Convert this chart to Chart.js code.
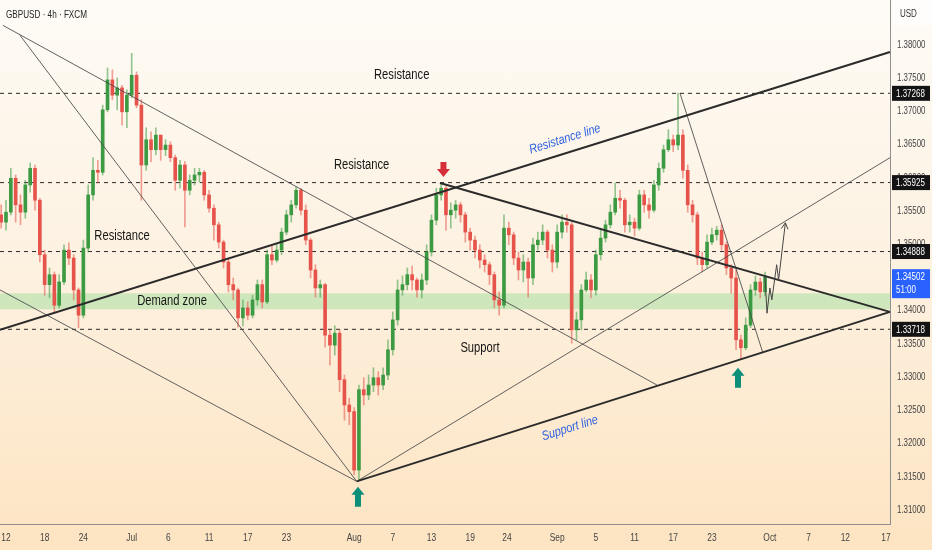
<!DOCTYPE html>
<html><head><meta charset="utf-8">
<script src="https://cdn.jsdelivr.net/npm/chart.js@4.4.1/dist/chart.umd.min.js"></script>
<style>
html,body{margin:0;padding:0;background:#fff;}
#wrap{width:932px;height:550px;position:relative;background:linear-gradient(to bottom,#fefbf6 0%,#fdf2e2 45%,#fde4c2 100%);}
canvas{display:block;}
</style></head><body>
<div id="wrap"><canvas id="c" width="932" height="550"></canvas></div>
<script>
// ---------- DATA ----------
// half-day candles, x in trading days since Jun 12
const firstOpen = 1.3544;
const closes = [
1.3533,1.3548,1.3599,1.3559,1.3548,1.3589,1.3614,1.3566,1.3484,1.3439,
1.3454,1.3408,1.3443,1.3491,1.3479,1.3431,1.3393,1.3494,1.3574,1.3611,
1.3608,1.3702,1.3747,1.3724,1.3735,1.3699,1.3724,1.3754,1.3709,1.3619,
1.3657,1.3642,1.3664,1.3642,1.3649,1.3630,1.3596,1.3619,1.3581,1.3596,
1.3604,1.3608,1.3574,1.3554,1.3529,1.3503,1.3473,1.3439,1.3431,1.3389,
1.3404,1.3393,1.3416,1.3439,1.3413,1.3484,1.3476,1.3491,1.3518,1.3544,
1.3559,1.3581,1.3551,1.3506,1.3461,1.3434,1.3439,1.3363,1.3348,1.3366,
1.3296,1.3258,1.3248,1.3160,1.3281,1.3273,1.3288,1.3299,1.3288,1.3303,
1.3341,1.3386,1.3431,1.3439,1.3454,1.3446,1.3431,1.3446,1.3488,1.3536,
1.3574,1.3584,1.3544,1.3551,1.3559,1.3544,1.3518,1.3506,1.3491,1.3476,
1.3469,1.3454,1.3416,1.3408,1.3524,1.3514,1.3479,1.3461,1.3473,1.3449,
1.3499,1.3506,1.3518,1.3491,1.3473,1.3518,1.3533,1.3529,1.3371,1.3386,
1.3431,1.3446,1.3431,1.3484,1.3509,1.3529,1.3548,1.3569,1.3566,1.3529,
1.3533,1.3524,1.3574,1.3559,1.3551,1.3589,1.3614,1.3642,1.3657,1.3649,
1.3664,1.3611,1.3559,1.3544,1.3479,1.3469,1.3503,1.3514,1.3521,1.3499,
1.3464,1.3449,1.3356,1.3344,1.3378,1.3431,1.3443,1.3428,1.3450];
const highs = [
1.3559,1.3566,1.3614,1.3604,1.3574,1.3596,1.3622,1.3619,1.3569,1.3491,
1.3464,1.3458,1.3454,1.3499,1.3502,1.3484,1.3434,1.3506,1.3589,1.3630,
1.3626,1.3709,1.3765,1.3762,1.3750,1.3739,1.3732,1.3787,1.3759,1.3717,
1.3675,1.3669,1.3675,1.3660,1.3657,1.3654,1.3634,1.3626,1.3624,1.3604,
1.3614,1.3614,1.3611,1.3581,1.3559,1.3533,1.3506,1.3479,1.3449,1.3434,
1.3416,1.3413,1.3423,1.3446,1.3446,1.3491,1.3497,1.3499,1.3524,1.3551,
1.3566,1.3586,1.3584,1.3559,1.3509,1.3469,1.3446,1.3441,1.3371,1.3377,
1.3371,1.3303,1.3268,1.3254,1.3288,1.3299,1.3303,1.3314,1.3308,1.3314,
1.3356,1.3398,1.3446,1.3452,1.3464,1.3467,1.3449,1.3455,1.3499,1.3544,
1.3584,1.3593,1.3587,1.3562,1.3566,1.3563,1.3548,1.3524,1.3512,1.3499,
1.3484,1.3473,1.3458,1.3428,1.3544,1.3533,1.3518,1.3488,1.3484,1.3479,
1.3509,1.3518,1.3529,1.3521,1.3499,1.3529,1.3544,1.3544,1.3533,1.3398,
1.3439,1.3458,1.3454,1.3491,1.3524,1.3536,1.3559,1.3592,1.3581,1.3569,
1.3544,1.3539,1.3581,1.3581,1.3569,1.3596,1.3622,1.3649,1.3672,1.3664,
1.3727,1.3672,1.3619,1.3566,1.3548,1.3488,1.3514,1.3524,1.3527,1.3529,
1.3503,1.3469,1.3461,1.3363,1.3389,1.3439,1.3452,1.3449,1.3458];
const lows = [
1.3524,1.3521,1.3544,1.3533,1.3529,1.3539,1.3578,1.3551,1.3473,1.3423,
1.3419,1.3396,1.3404,1.3439,1.3469,1.3416,1.3374,1.3389,1.3488,1.3566,
1.3592,1.3604,1.3699,1.3717,1.3702,1.3679,1.3675,1.3720,1.3705,1.3566,
1.3611,1.3624,1.3634,1.3626,1.3633,1.3624,1.3581,1.3584,1.3526,1.3574,
1.3589,1.3593,1.3566,1.3548,1.3506,1.3494,1.3464,1.3428,1.3416,1.3375,
1.3377,1.3386,1.3389,1.3408,1.3404,1.3410,1.3469,1.3473,1.3484,1.3514,
1.3533,1.3554,1.3544,1.3499,1.3449,1.3420,1.3420,1.3345,1.3318,1.3333,
1.3278,1.3235,1.3228,1.3153,1.3144,1.3258,1.3266,1.3278,1.3273,1.3281,
1.3296,1.3333,1.3378,1.3423,1.3431,1.3431,1.3420,1.3419,1.3439,1.3482,
1.3529,1.3566,1.3521,1.3524,1.3539,1.3533,1.3503,1.3491,1.3479,1.3464,
1.3458,1.3439,1.3404,1.3393,1.3404,1.3499,1.3469,1.3446,1.3443,1.3420,
1.3439,1.3491,1.3499,1.3479,1.3458,1.3464,1.3509,1.3518,1.3351,1.3356,
1.3371,1.3428,1.3419,1.3423,1.3476,1.3503,1.3524,1.3544,1.3554,1.3518,
1.3518,1.3512,1.3521,1.3548,1.3539,1.3548,1.3581,1.3608,1.3639,1.3639,
1.3642,1.3599,1.3548,1.3533,1.3469,1.3458,1.3464,1.3499,1.3506,1.3491,
1.3454,1.3426,1.3341,1.3326,1.3341,1.3374,1.3423,1.3419,1.3422];

const tickDays   = [0,4,8,13,16.8,21,25,29,36,40,44,48,51.8,57,61,65,69,73,79,83,86.8,91];
const tickLabels = ['12','18','24','Jul','6','11','17','23','Aug','7','13','19','24','Sep','5','11','17','23','Oct','7','12','17'];
const priceTicks = [1.31,1.315,1.32,1.325,1.33,1.335,1.34,1.345,1.35,1.355,1.36,1.365,1.37,1.375,1.38];
const levelPrices = [1.37268,1.35925,1.34888,1.33718];
const lastPrice = 1.34502;
const countdown = '51:00';
const demandZone = [1.3402,1.3426];

const thickLines = [
  [[-0.62,1.3371],[91.42,1.3789]],
  [[36.27,1.3143],[91.42,1.3398]],
  [[44.88,1.3592],[91.42,1.3398]]
];
const thinLines = [
  [[-0.31,1.3829],[67.32,1.3288]],
  [[1.45,1.3814],[36.27,1.3143]],
  [[-0.62,1.3431],[36.27,1.3143]],
  [[36.27,1.3143],[91.42,1.3630]],
  [[69.7,1.3727],[78.28,1.3336]]
];
const projection = [[78.5,1.3450],[78.7,1.3396],[79.0,1.3434],[79.2,1.3416],[79.7,1.3469],[79.9,1.3446],[80.6,1.3532]];

const notes = [
  {text:'Resistance', d:40.92, p:1.3754},
  {text:'Resistance', d:36.78, p:1.3619},
  {text:'Resistance', d:12.0,  p:1.3512},
  {text:'Demand zone', d:17.17, p:1.3414},
  {text:'Support', d:49.02, p:1.3344}
];
const slantNotes = [
  {text:'Resistance line', d:57.81, p:1.3658},
  {text:'Support line', d:58.32, p:1.3223}
];
const arrowMarks = [
  {d:45.24, p:1.3601, dir:'down', color:'#d5303a'},
  {d:36.4,  p:1.3135, dir:'up',   color:'#0b8f78'},
  {d:75.7,  p:1.3314, dir:'up',   color:'#0b8f78'}
];

// ---------- CHART ----------
const xMin=-0.62, xMax=91.42, yMin=1.30789, yMax=1.38672;
const FONT='"Liberation Sans",Arial,sans-serif';
const opens = closes.map((c,i)=> i===0 ? firstOpen : closes[i-1]);
const xs = closes.map((c,i)=> -0.5 + 0.5*i);
const isUp = closes.map((c,i)=> c >= opens[i]);
const bodyData = closes.map((c,i)=>({x:xs[i], y:[opens[i], c]}));
const wickData = closes.map((c,i)=>({x:xs[i], y:[Math.min(lows[i],opens[i],c), Math.max(highs[i],opens[i],c)]}));
const GREEN='#3c9a43', RED='#e5534b';
const GREENW='rgba(60,154,67,0.55)', REDW='rgba(229,83,75,0.55)';

function seg(pts, color, width, dash, order){
  return {type:'line', data:pts.map(p=>({x:p[0],y:p[1]})), borderColor:color, borderWidth:width,
    borderDash:dash||[], pointRadius:0, fill:false, tension:0, order:order, clip:false};
}
const datasets = [];
datasets.push({type:'line', data:[{x:xMin,y:demandZone[1]},{x:xMax,y:demandZone[1]}], borderWidth:0,
  pointRadius:0, fill:{value:demandZone[0]}, backgroundColor:'rgba(150,220,150,0.45)', order:20});
levelPrices.forEach(v=>datasets.push(seg([[xMin,v],[xMax,v]],'#2a2a2a',1,[4,4],15)));
datasets.push({type:'bar', data:wickData, barThickness:1, grouped:false, order:10,
  backgroundColor:isUp.map(u=>u?GREENW:REDW)});
datasets.push({type:'bar', data:bodyData, barThickness:3, minBarLength:1, grouped:false, order:9,
  backgroundColor:isUp.map(u=>u?GREEN:RED)});
thinLines.forEach(l=>datasets.push(seg(l,'rgba(70,70,70,0.85)',1,null,3)));
thickLines.forEach(l=>datasets.push(seg(l,'#2b2b2b',2,null,2)));
datasets.push(seg(projection,'#444',1,null,1));

// narrow text helper (reference type is horizontally condensed)
function txt(ctx, s, x, y, size, color, align, opts){
  opts = opts||{};
  ctx.save();
  ctx.translate(x,y);
  if (opts.rot) ctx.rotate(opts.rot);
  ctx.scale(opts.sx||0.8, 1);
  ctx.font=(opts.style?opts.style+' ':'')+size+'px '+FONT;
  ctx.fillStyle=color; ctx.textAlign=align||'left'; ctx.textBaseline='middle';
  ctx.fillText(s,0,0);
  ctx.restore();
}

const overlay = {
  id:'overlay',
  afterDatasetsDraw(chart){
    const ctx=chart.ctx, xs_=chart.scales.x, ys_=chart.scales.y;
    const X=d=>xs_.getPixelForValue(d), Y=p=>ys_.getPixelForValue(p);
    ctx.save();
    notes.forEach(n=>txt(ctx,n.text,X(n.d),Y(n.p),14,'#161616','center'));
    slantNotes.forEach(n=>txt(ctx,n.text,X(n.d),Y(n.p),13,'#2f62e0','center',{style:'italic',rot:-17.5*Math.PI/180,sx:0.84}));
    arrowMarks.forEach(a=>{
      const x=X(a.d), y=Y(a.p), s=a.dir==='down'?-1:1;
      const headH=8, total=a.dir==='down'?15:20, hw=6.5, sw=3;
      ctx.fillStyle=a.color; ctx.beginPath();
      ctx.moveTo(x,y); ctx.lineTo(x+hw,y+s*headH); ctx.lineTo(x+sw,y+s*headH); ctx.lineTo(x+sw,y+s*total);
      ctx.lineTo(x-sw,y+s*total); ctx.lineTo(x-sw,y+s*headH); ctx.lineTo(x-hw,y+s*headH); ctx.closePath(); ctx.fill();
    });
    const n=projection.length, p1=projection[n-2], p2=projection[n-1];
    const x1=X(p1[0]),y1=Y(p1[1]),x2=X(p2[0]),y2=Y(p2[1]);
    const ang=Math.atan2(y2-y1,x2-x1), L=7;
    ctx.strokeStyle='#444'; ctx.lineWidth=1; ctx.beginPath();
    ctx.moveTo(x2-L*Math.cos(ang-0.5),y2-L*Math.sin(ang-0.5)); ctx.lineTo(x2,y2);
    ctx.lineTo(x2-L*Math.cos(ang+0.5),y2-L*Math.sin(ang+0.5)); ctx.stroke();
    ctx.restore();
  },
  afterDraw(chart){
    const ctx=chart.ctx, xs_=chart.scales.x, ys_=chart.scales.y, area=chart.chartArea;
    const X=d=>xs_.getPixelForValue(d), Y=p=>ys_.getPixelForValue(p);
    xs_.ticks.forEach((t,i)=>txt(ctx,tickLabels[i],X(t.value),538,10.5,'#444','center'));
    ys_.ticks.forEach(t=>txt(ctx,Number(t.value).toFixed(5),area.right+7,Y(t.value),10.5,'#444','left',{sx:0.75}));
    txt(ctx,'GBPUSD \u00b7 4h \u00b7 FXCM',6,15,11,'#262626','left',{sx:0.74});
    ctx.save();
    ctx.fillStyle='rgba(255,255,255,0.6)'; ctx.fillRect(area.right+3,0,932-area.right-3,25);
    ctx.restore();
    txt(ctx,'USD',area.right+10,14,10,'#333','left');
    levelPrices.forEach(v=>{
      const y=Y(v); ctx.save(); ctx.fillStyle='#131313'; ctx.fillRect(area.right+2,y-7.5,38,15); ctx.restore();
      txt(ctx,v.toFixed(5),area.right+6,y+0.5,10.5,'#fff','left',{sx:0.76});
    });
    const yl=Y(lastPrice);
    ctx.save(); ctx.fillStyle='#2962ff'; ctx.fillRect(area.right+2,yl-8,38,29); ctx.restore();
    txt(ctx,lastPrice.toFixed(5),area.right+6,yl,10.5,'#fff','left',{sx:0.76});
    txt(ctx,countdown,area.right+6,yl+13,10.5,'#fff','left',{sx:0.76});
  }
};

function zeroPad(s){ s.paddingTop=0; s.paddingBottom=0; s.paddingLeft=0; s.paddingRight=0; }

new Chart(document.getElementById('c'), {
  type:'bar',
  data:{datasets},
  options:{
    responsive:false, animation:false, events:[],
    layout:{padding:0},
    plugins:{legend:{display:false}, tooltip:{enabled:false}},
    scales:{
      x:{type:'linear', min:xMin, max:xMax, offset:false, grid:{display:false},
        border:{display:true,color:'#8f8f8f'},
        afterBuildTicks:s=>{s.ticks=tickDays.map(v=>({value:v}));},
        afterFit:s=>{s.height=26; zeroPad(s);},
        ticks:{display:false, autoSkip:false, maxRotation:0}},
      y:{type:'linear', position:'right', min:yMin, max:yMax, grid:{display:false},
        border:{display:true,color:'#8f8f8f'},
        afterBuildTicks:s=>{s.ticks=priceTicks.map(v=>({value:v}));},
        afterFit:s=>{s.width=42; zeroPad(s);},
        ticks:{display:false}}
    }
  },
  plugins:[overlay]
});
</script>
</body></html>
